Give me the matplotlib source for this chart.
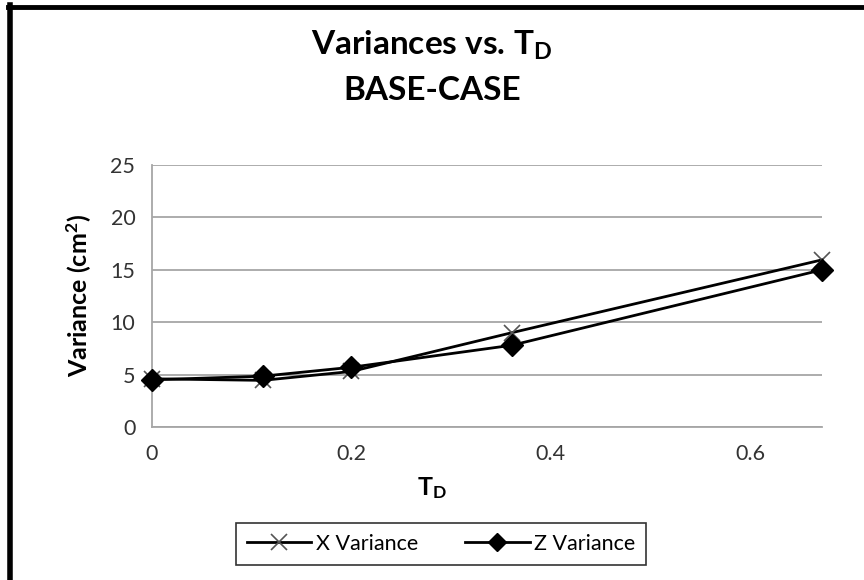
import matplotlib.pyplot as plt
from matplotlib.lines import Line2D

# Data
td = [0.0, 0.111, 0.2, 0.361, 0.672]
x_variance = [4.6, 4.45, 5.3, 9.0, 15.95]
z_variance = [4.5, 4.85, 5.7, 7.8, 15.0]
x_ticks = [0, 0.2, 0.4, 0.6]
x_tick_labels = ["0", "0.2", "0.4", "0.6"]
y_ticks = [0, 5, 10, 15, 20, 25]

plt.rcParams['font.family'] = ['Lato', 'DejaVu Sans']
plt.rcParams['mathtext.fontset'] = 'custom'
plt.rcParams['mathtext.rm'] = 'Lato'
plt.rcParams['mathtext.bf'] = 'Lato:bold'
plt.rcParams['mathtext.it'] = 'Lato:italic'

fig = plt.figure(figsize=(8.64, 5.8), dpi=100)
ax = fig.add_axes([152/864, 1 - 427/580, (822 - 152)/864, (427 - 165)/580])

ax.plot(td, x_variance, color='black', lw=2, marker='x', markersize=12,
        markeredgecolor='#555555', markeredgewidth=1.2, label='X Variance',
        zorder=3, clip_on=False)
ax.plot(td, z_variance, color='black', lw=2, marker='D', markersize=11,
        markerfacecolor='black', markeredgecolor='black', label='Z Variance',
        zorder=4, clip_on=False)

ax.set_xlim(0, 0.672)
ax.set_ylim(0, 25)
ax.set_xticks(x_ticks, x_tick_labels)
ax.set_yticks(y_ticks)
ax.tick_params(length=0, labelsize=15.5, colors='#333333', pad=12)
ax.grid(True, axis='y', color='#a6a6a6', lw=1.3)
ax.set_axisbelow(True)
for side in ['top', 'right']:
    ax.spines[side].set_visible(False)
for side in ['left', 'bottom']:
    ax.spines[side].set_color('#a6a6a6')
    ax.spines[side].set_linewidth(1.3)

ax.set_ylabel('Variance (cm$^{\\mathbf{2}}$)', fontsize=18, fontweight='bold', labelpad=12)
fig.text(0.5, 1 - 488/580, r'T$_{\mathbf{D}}$', fontsize=18, fontweight='bold',
         ha='center', va='center')

fig.text(0.5, 1 - 45/580, r'Variances vs. T$_{\mathbf{D}}$', fontsize=24,
         fontweight='bold', ha='center', va='center')
fig.text(0.5, 1 - 90/580, 'BASE-CASE', fontsize=24, fontweight='bold',
         ha='center', va='center')

handles = [
    Line2D([], [], color='black', lw=2, marker='x', markersize=12,
           markeredgecolor='#555555', markeredgewidth=1.2),
    Line2D([], [], color='black', lw=2, marker='D', markersize=9,
           markerfacecolor='black'),
]
leg = fig.legend(handles, ['X Variance', 'Z Variance'], ncol=2, loc='center',
                 bbox_to_anchor=(441/864, 1 - 544/580), fontsize=15.5,
                 frameon=True, fancybox=False, edgecolor='black',
                 handlelength=3.0, handletextpad=0.2, columnspacing=2.2,
                 borderpad=0.5, borderaxespad=0)
leg.get_frame().set_linewidth(1.2)

# outer chart border (only left and top visible)
fig.add_artist(Line2D([9.5/864, 9.5/864], [0, 1 - 5/580], color='black', lw=4,
                      transform=fig.transFigure))
fig.add_artist(Line2D([7.5/864, 1], [1 - 7/580, 1 - 7/580], color='black', lw=3.5,
                      transform=fig.transFigure))

fig.savefig('out.png', dpi=100)
